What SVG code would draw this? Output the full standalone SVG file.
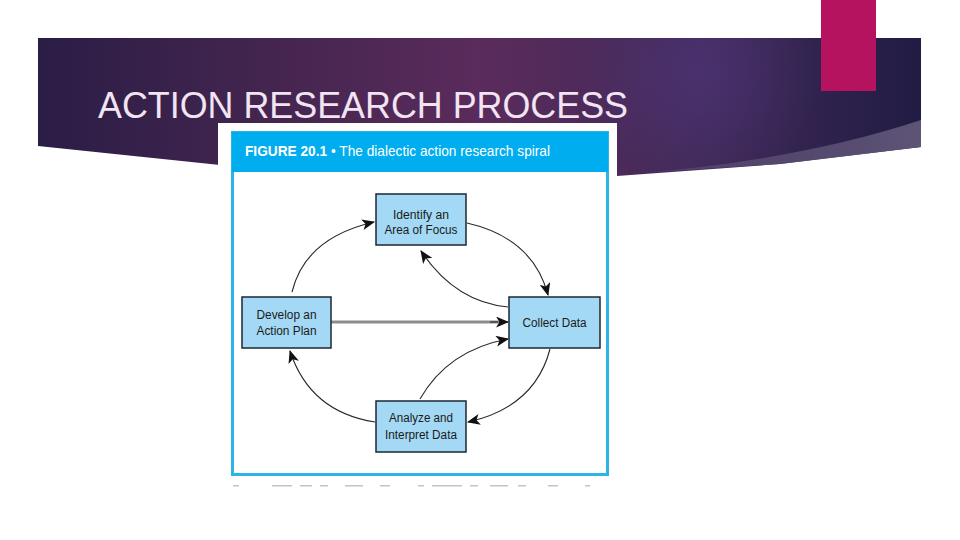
<svg xmlns="http://www.w3.org/2000/svg" width="960" height="540" viewBox="0 0 960 540">
<defs>
<linearGradient id="bannerGrad" x1="0" y1="0" x2="1" y2="0">
<stop offset="0" stop-color="#2a1d46"/>
<stop offset="0.25" stop-color="#43254f"/>
<stop offset="0.5" stop-color="#5a2b5c"/>
<stop offset="0.75" stop-color="#412a58"/>
<stop offset="1" stop-color="#211c44"/>
</linearGradient>
<radialGradient id="glow" cx="700" cy="70" r="120" gradientUnits="userSpaceOnUse">
<stop offset="0" stop-color="#4e3478" stop-opacity="0.7"/>
<stop offset="1" stop-color="#4e3478" stop-opacity="0"/>
</radialGradient>
<linearGradient id="bandGrad" x1="0" y1="0" x2="1" y2="0">
<stop offset="0" stop-color="#5a4a72" stop-opacity="0.6"/>
<stop offset="1" stop-color="#5d5476"/>
</linearGradient>
<marker id="arrow" viewBox="0 0 12 10" refX="11" refY="5" markerWidth="13" markerHeight="11" markerUnits="userSpaceOnUse" orient="auto">
<path d="M0,0 L12,5 L0,10 L3,5 Z" fill="#111"/>
</marker>
<style>
.node rect { fill: #a3d9f4; stroke: #1b2733; stroke-width: 1.5; }
.node text { font-family: "Liberation Sans", Arial, sans-serif; font-size: 12.5px; fill: #1a1a1a; text-anchor: middle; }
.conn { fill: none; stroke: #2a2a2a; stroke-width: 1.1; marker-end: url(#arrow); }
.title { font-family: "Liberation Sans", Arial, sans-serif; font-size: 36px; fill: #f2e4f2; }
</style>
</defs>

<rect width="960" height="540" fill="#ffffff"/>

<g id="banner">
<path d="M38,38 L921,38 L921,147 L780,164 L617,176 L420,178 L220,165 L38,146 Z" fill="url(#bannerGrad)"/>
<path d="M38,38 L921,38 L921,147 L780,164 L617,176 L420,178 L220,165 L38,146 Z" fill="url(#glow)"/>
<path d="M640,173 Q800,160 921,120 L921,147 L780,164 Z" fill="url(#bandGrad)"/>
<rect x="821" y="0" width="55" height="91" fill="#b5135f"/>
<text class="title" x="98" y="118" textLength="530" lengthAdjust="spacingAndGlyphs">ACTION RESEARCH PROCESS</text>
</g>

<g id="figure">
<rect x="218" y="123" width="399" height="368" fill="#ffffff"/>
<rect x="232.5" y="132.5" width="375" height="342" fill="#ffffff" stroke="#2db4e6" stroke-width="3"/>
<rect x="232" y="132" width="376" height="40" fill="#00adee"/>
<text x="245" y="156" font-family="Liberation Sans, Arial, sans-serif" font-size="14.5" fill="#ffffff" textLength="305" lengthAdjust="spacingAndGlyphs"><tspan font-weight="bold">FIGURE 20.1</tspan>  •  The dialectic action research spiral</text>
<g fill="#c4c4c4">
<rect x="233" y="485" width="6" height="1.5"/><rect x="272" y="485" width="20" height="1.5"/><rect x="300" y="485" width="12" height="1.5"/>
<rect x="320" y="485" width="8" height="1.5"/><rect x="345" y="485" width="18" height="1.5"/><rect x="380" y="485" width="10" height="1.5"/>
<rect x="418" y="485" width="6" height="1.5"/><rect x="432" y="485" width="30" height="1.5"/><rect x="470" y="485" width="8" height="1.5"/>
<rect x="490" y="485" width="18" height="1.5"/><rect x="518" y="485" width="8" height="1.5"/><rect x="548" y="485" width="10" height="1.5"/>
<rect x="585" y="485" width="5" height="1.5"/>
</g>
</g>

<g id="connectors">
<path class="conn" d="M292,292 Q305,238 374,222"/>
<path class="conn" d="M467,223 Q533,238 548,295"/>
<path class="conn" d="M508,307 Q455,302 421,251"/>
<line x1="331" y1="322" x2="498" y2="322" stroke="#8c8c8c" stroke-width="3"/>
<path class="conn" d="M490,322 L508,322"/>
<path class="conn" d="M420,399 Q448,350 508,339"/>
<path class="conn" d="M550,349 Q535,407 468,422"/>
<path class="conn" d="M375,422 Q310,412 290,351"/>
</g>

<g id="node-identify" class="node">
<rect x="376" y="194" width="90" height="51"/>
<text x="421" y="219" textLength="56" lengthAdjust="spacingAndGlyphs">Identify an</text>
<text x="421" y="234" textLength="73" lengthAdjust="spacingAndGlyphs">Area of Focus</text>
</g>
<g id="node-develop" class="node">
<rect x="242" y="297" width="89" height="51"/>
<text x="286.5" y="319" textLength="60" lengthAdjust="spacingAndGlyphs">Develop an</text>
<text x="286.5" y="335" textLength="60" lengthAdjust="spacingAndGlyphs">Action Plan</text>
</g>
<g id="node-collect" class="node">
<rect x="509" y="297" width="91" height="51"/>
<text x="554.5" y="327" textLength="64" lengthAdjust="spacingAndGlyphs">Collect Data</text>
</g>
<g id="node-analyze" class="node">
<rect x="376" y="401" width="90" height="51"/>
<text x="421" y="422" textLength="64" lengthAdjust="spacingAndGlyphs">Analyze and</text>
<text x="421" y="439" textLength="72" lengthAdjust="spacingAndGlyphs">Interpret Data</text>
</g>
</svg>
